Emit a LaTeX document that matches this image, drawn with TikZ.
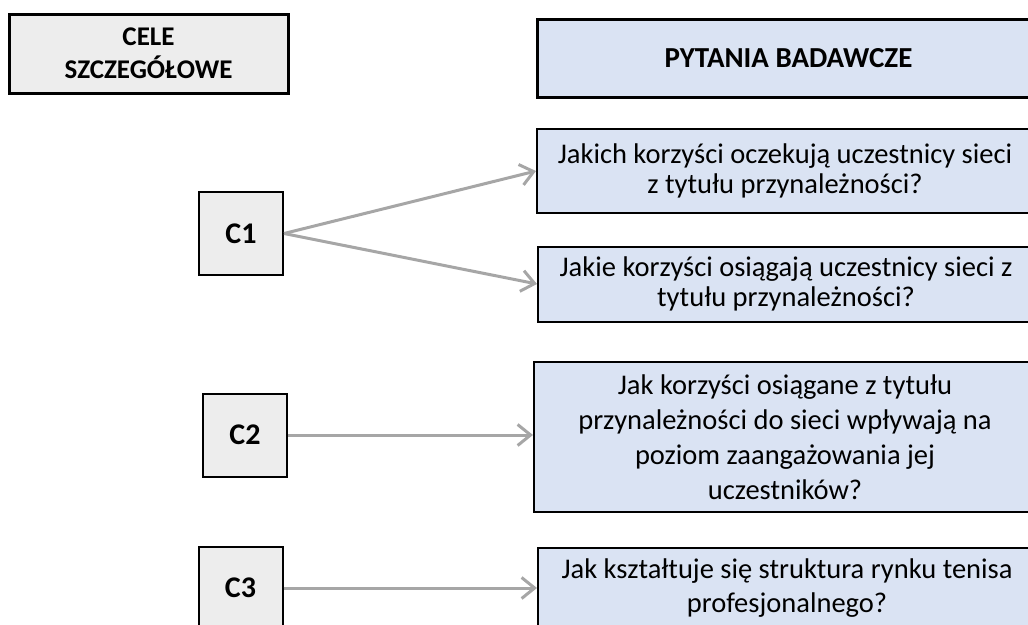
\documentclass[tikz,border=0pt]{standalone}
\usepackage{fontspec}
\setmainfont{Carlito}
\usetikzlibrary{arrows.meta}
\definecolor{goalfill}{HTML}{EDEDED}
\definecolor{qfill}{HTML}{DAE3F3}
\definecolor{linkgray}{HTML}{A6A6A6}
\begin{document}
\begin{tikzpicture}[x=1pt,y=-1pt,
  header/.style={draw=black, line width=3pt, align=center, inner sep=0pt},
  goal/.style={draw=black, line width=2pt, fill=goalfill,
    font=\bfseries\fontsize{30}{36}\selectfont, inner sep=0pt,
    minimum width=84pt, minimum height=83pt},
  question/.style={draw=black, line width=2pt, fill=qfill,
    font=\fontsize{28.5}{30}\selectfont, align=center, inner sep=0pt},
  link/.style={draw=linkgray, line width=3pt,
    -{Straight Barb[length=13pt,width=21pt]}}
]
\useasboundingbox (0,0) rectangle (1028,624);
\clip (0,0) rectangle (1028,624);

% column headers
\node[header, fill=goalfill, font=\bfseries\fontsize{27}{33}\selectfont,
  minimum width=279pt, minimum height=79pt]
  (cele) at (148.5,53.5) {CELE\\SZCZEGÓŁOWE};
\node[header, fill=qfill, font=\bfseries\fontsize{29}{34}\selectfont,
  minimum width=503pt, minimum height=78pt]
  (pyt) at (788.5,58) {PYTANIA BADAWCZE};

% specific goals
\node[goal] (c1) at (241,233.5) {C1};
\node[goal] (c2) at (245,435) {C2};
\node[goal] (c3) at (240.5,588) {C3};

% research questions
\node[question, minimum width=496pt, minimum height=84pt] (q1) at (785,171)
  {Jakich korzyści oczekują uczestnicy sieci\\z tytułu przynależności?};
\node[question, minimum width=496pt, minimum height=75pt] (q2) at (786,284)
  {Jakie korzyści osiągają uczestnicy sieci z\\tytułu przynależności?};
\node[question, font=\fontsize{28.5}{35}\selectfont, minimum width=502pt, minimum height=150pt]
  (q3) at (785,437)
  {Jak korzyści osiągane z tytułu\\przynależności do sieci wpływają na\\poziom zaangażowania jej\\uczestników?};
\node[question, font=\fontsize{28.5}{34}\selectfont, minimum width=498pt, minimum height=80pt]
  (q4) at (787,588)
  {Jak kształtuje się struktura rynku tenisa\\profesjonalnego?};

% links from goals to questions
\draw[link] (c1.east) -- (q1.west);
\draw[link] (c1.east) -- (q2.west);
\draw[link] (c2.east) -- (c2.east -| q3.west);
\draw[link] (c3.east) -- (c3.east -| q4.west);
\end{tikzpicture}
\end{document}
